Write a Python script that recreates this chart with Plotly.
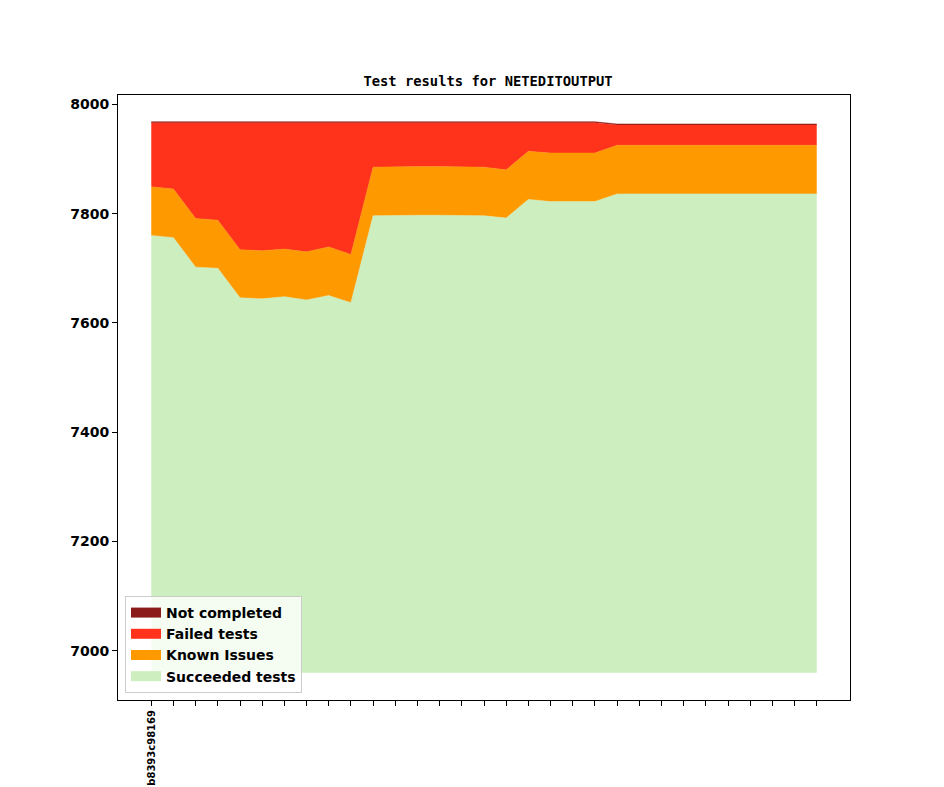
import numpy as np
import plotly.graph_objects as go

# one commit per point; only the first carries a label
commits = list(range(31))
tick_labels = ["b8393c98169"] + [""] * 30

baseline = 6960

succeeded = [7760, 7756, 7702, 7700, 7646, 7644, 7648, 7642, 7650, 7637,
             7796, 7797, 7797, 7797, 7797, 7796, 7792, 7826, 7822, 7822,
             7822, 7836, 7836, 7836, 7837, 7836, 7836, 7836, 7836, 7836, 7836]
known_issues = [89, 89, 89, 88, 88, 88, 87, 88, 89, 88,
                89, 89, 89, 89, 89, 89, 88, 88, 89, 89,
                89, 89, 89, 89, 89, 89, 89, 89, 89, 89, 89]
failed = [117, 121, 175, 178, 232, 234, 231, 236, 227, 241,
          81, 80, 80, 80, 80, 81, 86, 52, 55, 55,
          55, 37, 37, 37, 36, 37, 37, 37, 37, 37, 37]
not_completed = [2] * 31

series = [
    ("Succeeded tests", succeeded, "#cdeebf"),
    ("Known Issues", known_issues, "#ff9900"),
    ("Failed tests", failed, "#ff331c"),
    ("Not completed", not_completed, "#8b1a1a"),
]

fig = go.Figure()
fig.add_trace(go.Scatter(x=commits, y=[baseline] * len(commits), mode="lines",
                         line=dict(width=0), showlegend=False, hoverinfo="skip"))

running = np.zeros(len(commits))
for name, vals, color in series:
    if name == "Succeeded tests":
        running = np.array(vals, dtype=float)
    else:
        running = running + np.array(vals)
    fig.add_trace(go.Scatter(x=commits, y=running, name=name, mode="lines",
                             line=dict(width=0.5, color=color),
                             fill="tonexty", fillcolor=color, showlegend=False))

# legend-only entries so the swatches look like matplotlib patches
for name, vals, color in series:
    fig.add_trace(go.Scatter(x=[None], y=[None], name=name, mode="lines",
                             line=dict(width=10, color=color)))

bold = dict(family="DejaVu Sans", size=14, color="black", weight="bold")

fig.update_layout(
    width=944, height=787,
    margin=dict(l=110, r=102, t=87, b=95),
    paper_bgcolor="white", plot_bgcolor="white",
    title=dict(text="Test results for NETEDITOUTPUT", x=0.5085, xanchor="center",
               y=0.9075, yanchor="middle",
               font=dict(family="DejaVu Sans Mono", size=13.8, color="black", weight="bold")),
    font=bold,
    legend=dict(x=0.0096, y=0.0116, xanchor="left", yanchor="bottom",
                traceorder="reversed", bgcolor="rgba(255,255,255,0.8)",
                bordercolor="#cccccc", borderwidth=1, font=bold,
                tracegroupgap=0, itemwidth=30),
    showlegend=True,
)
fig.update_xaxes(range=[-1.5, 31.5], tickvals=commits, ticktext=tick_labels,
                 tickangle=-90, ticks="outside", ticklen=5, tickcolor="black",
                 showline=True, linecolor="black", linewidth=1, mirror=True,
                 showgrid=False, zeroline=False, automargin=False,
                 tickfont=dict(family="DejaVu Sans", size=10, color="black", weight="bold"))
fig.update_yaxes(range=[6910, 8017], tickvals=[7000, 7200, 7400, 7600, 7800, 8000],
                 ticks="outside", ticklen=5, tickcolor="black",
                 showline=True, linecolor="black", linewidth=1, mirror=True,
                 showgrid=False, zeroline=False, automargin=False, tickfont=bold)

fig.write_html("out.html")
